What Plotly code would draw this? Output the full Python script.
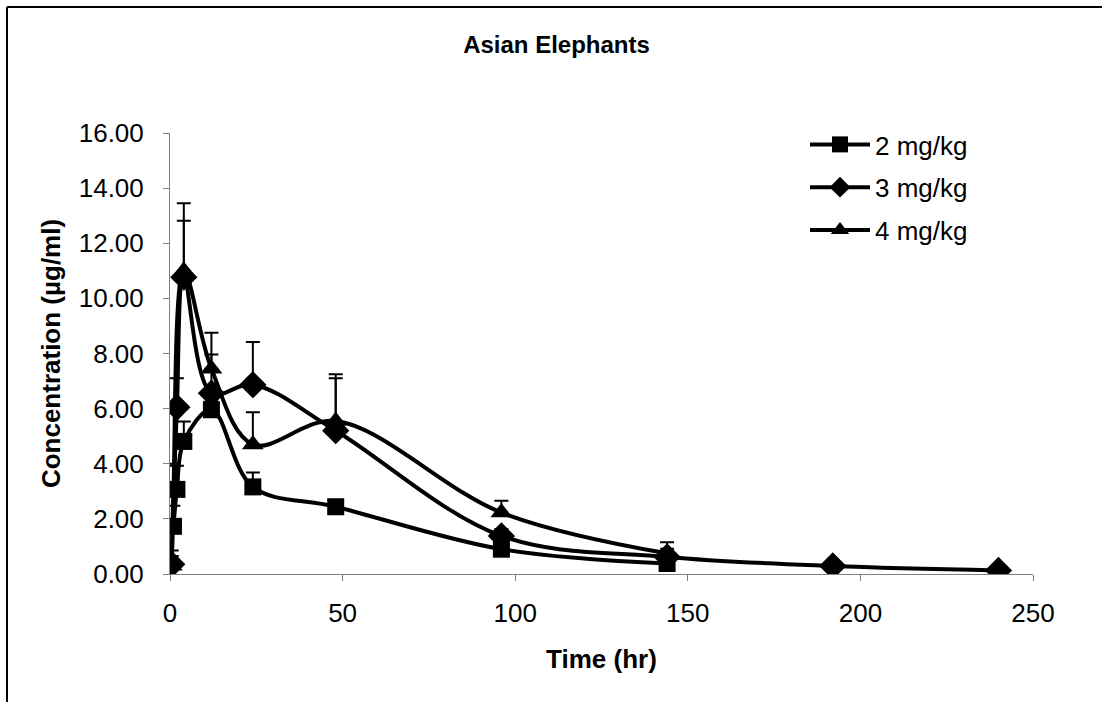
import plotly.graph_objects as go

# ---- data ----
t_2mg = [1, 2, 4, 12, 24, 48, 96, 144]
c_2mg = [1.73, 3.07, 4.81, 5.96, 3.16, 2.44, 0.90, 0.38]
e_2mg = [0.75, 0.86, 0.72, 0.30, 0.52, 0.20, 0.15, 0.10]

t_3mg = [0.5, 2, 4, 12, 24, 48, 96, 144, 192, 240]
c_3mg = [0.35, 6.05, 10.77, 6.56, 6.87, 5.20, 1.38, 0.62, 0.29, 0.13]
e_3mg = [0.50, 1.05, 2.05, 1.40, 1.55, 1.90, 0.25, 0.30, 0.10, 0.05]

t_4mg = [0.5, 1, 4, 12, 24, 48, 96, 144]
c_4mg = [0.30, 3.00, 11.00, 7.45, 4.70, 5.55, 2.23, 0.75]
e_4mg = [0.35, 1.00, 2.45, 1.30, 1.17, 1.70, 0.43, 0.40]

series = [
    ("2 mg/kg", t_2mg, c_2mg, e_2mg, "square", 17),
    ("3 mg/kg", t_3mg, c_3mg, e_3mg, "diamond", 21),
    ("4 mg/kg", t_4mg, c_4mg, e_4mg, "triangle-up", 19),
]

x_ticks = [0, 50, 100, 150, 200, 250]
y_ticks = [0, 2, 4, 6, 8, 10, 12, 14, 16]

W, H = 1102, 702
ML, MR, MT, MB = 170, 69, 133, 128
PW, PH = W - ML - MR, H - MT - MB

fig = go.Figure()
for i, (name, t, c, e, sym, sz) in enumerate(series):
    fig.add_trace(go.Scatter(
        x=t, y=c, name=name, mode="lines+markers",
        legendgroup=f"g{i}",
        line=dict(color="black", width=4, shape="spline", smoothing=1.0),
        marker=dict(symbol=sym, size=sz, color="black"),
        error_y=dict(type="data", array=e, symmetric=False, arrayminus=[0] * len(e),
                     color="black", thickness=2, width=7),
    ))

def px_x(px):
    return (px - ML) / PW

def px_y(py):
    return (H - MB - py) / PH

font_family = "Liberation Sans, Arial, sans-serif"

fig.update_layout(
    width=W, height=H,
    margin=dict(l=ML, r=MR, t=MT, b=MB),
    paper_bgcolor="white", plot_bgcolor="white",
    font=dict(family=font_family, color="black", size=26),
    title=dict(text="<b>Asian Elephants</b>", x=0.505, xanchor="center",
               y=1 - 45 / H, yanchor="middle",
               font=dict(size=24, family=font_family, color="black")),
    showlegend=True,
    legend=dict(x=px_x(805), y=px_y(121), xanchor="left", yanchor="top",
                font=dict(size=26, family=font_family, color="black"),
                bgcolor="rgba(0,0,0,0)", borderwidth=0,
                tracegroupgap=6, itemwidth=60),
    xaxis=dict(range=[0, 250], tickvals=x_ticks, ticktext=[str(v) for v in x_ticks],
               showgrid=False, zeroline=False, showline=True, linecolor="#808080",
               linewidth=1, ticks="outside", ticklen=6, tickcolor="#808080",
               ticklabelstandoff=10,
               tickfont=dict(size=26), title=dict(text="<b>Time (hr)</b>",
               font=dict(size=26), standoff=22)),
    yaxis=dict(range=[0, 16], tickvals=y_ticks, ticktext=[f"{v:.2f}" for v in y_ticks],
               showgrid=False, zeroline=False, showline=True, linecolor="#808080",
               linewidth=1, ticks="outside", ticklen=6, tickcolor="#808080",
               ticklabelstandoff=14,
               tickfont=dict(size=26), title=dict(text="<b>Concentration (µg/ml)</b>",
               font=dict(size=26), standoff=10)),
    shapes=[
        dict(type="line", xref="paper", yref="paper", x0=px_x(7), x1=px_x(1110),
             y0=px_y(7), y1=px_y(7), line=dict(color="black", width=2)),
        dict(type="line", xref="paper", yref="paper", x0=px_x(7), x1=px_x(7),
             y0=px_y(7), y1=px_y(710), line=dict(color="black", width=2)),
    ],
)

fig.write_html("out.html", config={"displayModeBar": False},
               post_script="document.body.style.margin='0';")
